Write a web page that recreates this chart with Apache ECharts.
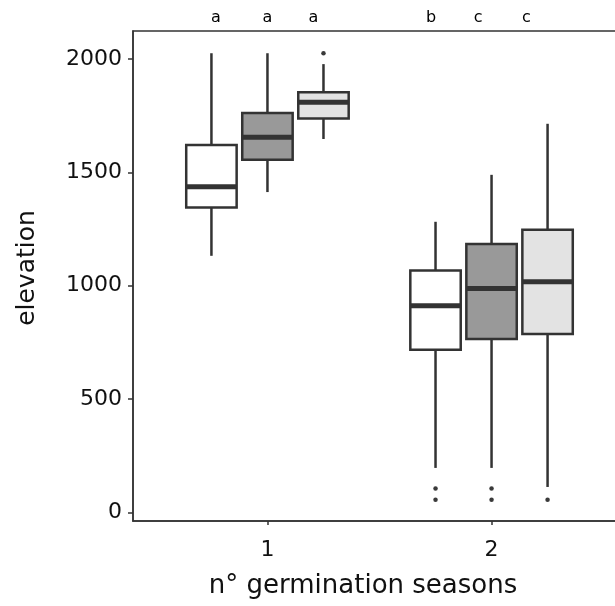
<!DOCTYPE html>
<html><head><meta charset="utf-8">
<script src="https://cdn.jsdelivr.net/npm/echarts@6/dist/echarts.min.js"></script>
<style>html,body{margin:0;padding:0;background:#fff}#c{width:615px;height:606px}</style>
</head><body><div id="c"></div>
<script>
// ---- data ----
const groups = [1, 2];
// [min whisker, Q1, median, Q3, max whisker] for groups 1 and 2
const whiteStats = [[1132, 1345, 1436, 1621, 2025], [197, 718, 912, 1067, 1282]];
const grayStats  = [[1413, 1556, 1655, 1761, 2025], [197, 765, 988, 1184, 1489]];
const lightStats = [[1647, 1737, 1809, 1853, 1977], [113, 787, 1018, 1247, 1714]];
const whiteOutliers = [[], [106, 57]];
const grayOutliers  = [[], [106, 57]];
const lightOutliers = [[2025], [57]];
const letterLabels = ['a', 'a', 'a', 'b', 'c', 'c'];
const letterX = [0.77, 1.0, 1.205, 1.73, 1.94, 2.155];
const letterY = [2180, 2180, 2180, 2180, 2180, 2180];
const yTicks = [0, 500, 1000, 1500, 2000];
const xTicks = [1, 2];

// ---- styling / layout ----
const FONT = 'DejaVu Sans';
const DARK = '#333333';
const fills = ['#ffffff', '#999999', '#e3e3e3'];
const offsets = [-0.25, 0, 0.25];
const boxW = 0.225;

function boxSeries(stats, k) {
  return {
    type: 'custom',
    clip: false,
    z: 3,
    data: stats.map((s, i) => [groups[i] + offsets[k]].concat(s)),
    encode: { x: 0, y: [1, 2, 3, 4, 5] },
    renderItem: function (params, api) {
      const x = api.value(0);
      const lo = api.coord([x, api.value(1)]);
      const q1 = api.coord([x, api.value(2)]);
      const md = api.coord([x, api.value(3)]);
      const q3 = api.coord([x, api.value(4)]);
      const hi = api.coord([x, api.value(5)]);
      const half = api.size([boxW, 0])[0] / 2;
      const cx = q1[0];
      return {
        type: 'group',
        children: [
          { type: 'line', shape: { x1: cx, y1: hi[1], x2: cx, y2: q3[1] }, style: { stroke: DARK, lineWidth: 2.5 } },
          { type: 'line', shape: { x1: cx, y1: q1[1], x2: cx, y2: lo[1] }, style: { stroke: DARK, lineWidth: 2.5 } },
          { type: 'rect', shape: { x: cx - half, y: q3[1], width: 2 * half, height: q1[1] - q3[1] },
            style: { fill: fills[k], stroke: DARK, lineWidth: 2.5 } },
          { type: 'line', shape: { x1: cx - half, y1: md[1], x2: cx + half, y2: md[1] }, style: { stroke: DARK, lineWidth: 5 } }
        ]
      };
    }
  };
}

function outlierSeries(outs, k) {
  const d = [];
  outs.forEach((arr, i) => arr.forEach(v => d.push([groups[i] + offsets[k], v])));
  return {
    type: 'scatter', data: d, symbol: 'circle', symbolSize: 4.5, z: 4,
    itemStyle: { color: '#3a3a3a', opacity: 1 }, clip: false
  };
}

const letterData = letterLabels.map((l, i) => ({ value: [letterX[i], letterY[i]], name: l }));

const chart = echarts.init(document.getElementById('c'), null, { renderer: 'canvas' });
chart.setOption({
  animation: false,
  backgroundColor: '#ffffff',
  grid: {
    left: 133, top: 31, bottom: 85, width: 493,
    show: true, borderColor: DARK, borderWidth: 1.5, backgroundColor: 'transparent',
    containLabel: false, outerBoundsMode: 'none'
  },
  xAxis: {
    type: 'value', min: 0.4, max: 2.6,
    name: 'n° germination seasons', nameLocation: 'middle', nameGap: 52,
    nameTextStyle: { fontFamily: FONT, fontSize: 26, color: '#111111', padding: [0, 33, 0, 0] },
    axisLine: { show: true, onZero: false, lineStyle: { color: DARK, width: 1.5 } },
    axisTick: { show: true, customValues: xTicks, length: 4, lineStyle: { color: DARK, width: 1.5 } },
    axisLabel: { customValues: xTicks, formatter: v => String(v), fontFamily: FONT, fontSize: 22, color: '#111111', margin: 18 },
    splitLine: { show: false }
  },
  yAxis: {
    type: 'value', min: -37, max: 2123,
    name: 'elevation', nameLocation: 'middle', nameGap: 93,
    nameTextStyle: { fontFamily: FONT, fontSize: 25, color: '#111111', padding: [0, 0, 0, 16] },
    axisLine: { show: true, onZero: false, lineStyle: { color: DARK, width: 1.5 } },
    axisTick: { show: true, customValues: yTicks, length: 5, lineStyle: { color: DARK, width: 1.5 } },
    axisLabel: { customValues: yTicks, formatter: v => String(v), fontFamily: FONT, fontSize: 22, color: '#111111', margin: 11 },
    splitLine: { show: false }
  },
  series: [
    boxSeries(whiteStats, 0), boxSeries(grayStats, 1), boxSeries(lightStats, 2),
    outlierSeries(whiteOutliers, 0), outlierSeries(grayOutliers, 1), outlierSeries(lightOutliers, 2),
    {
      type: 'scatter', data: letterData, symbolSize: 0, clip: false, z: 5,
      itemStyle: { opacity: 1 },
      label: { show: true, position: 'inside', formatter: p => p.name, fontFamily: FONT, fontSize: 16, color: '#000000', opacity: 1 }
    }
  ]
});
</script>
</body></html>
